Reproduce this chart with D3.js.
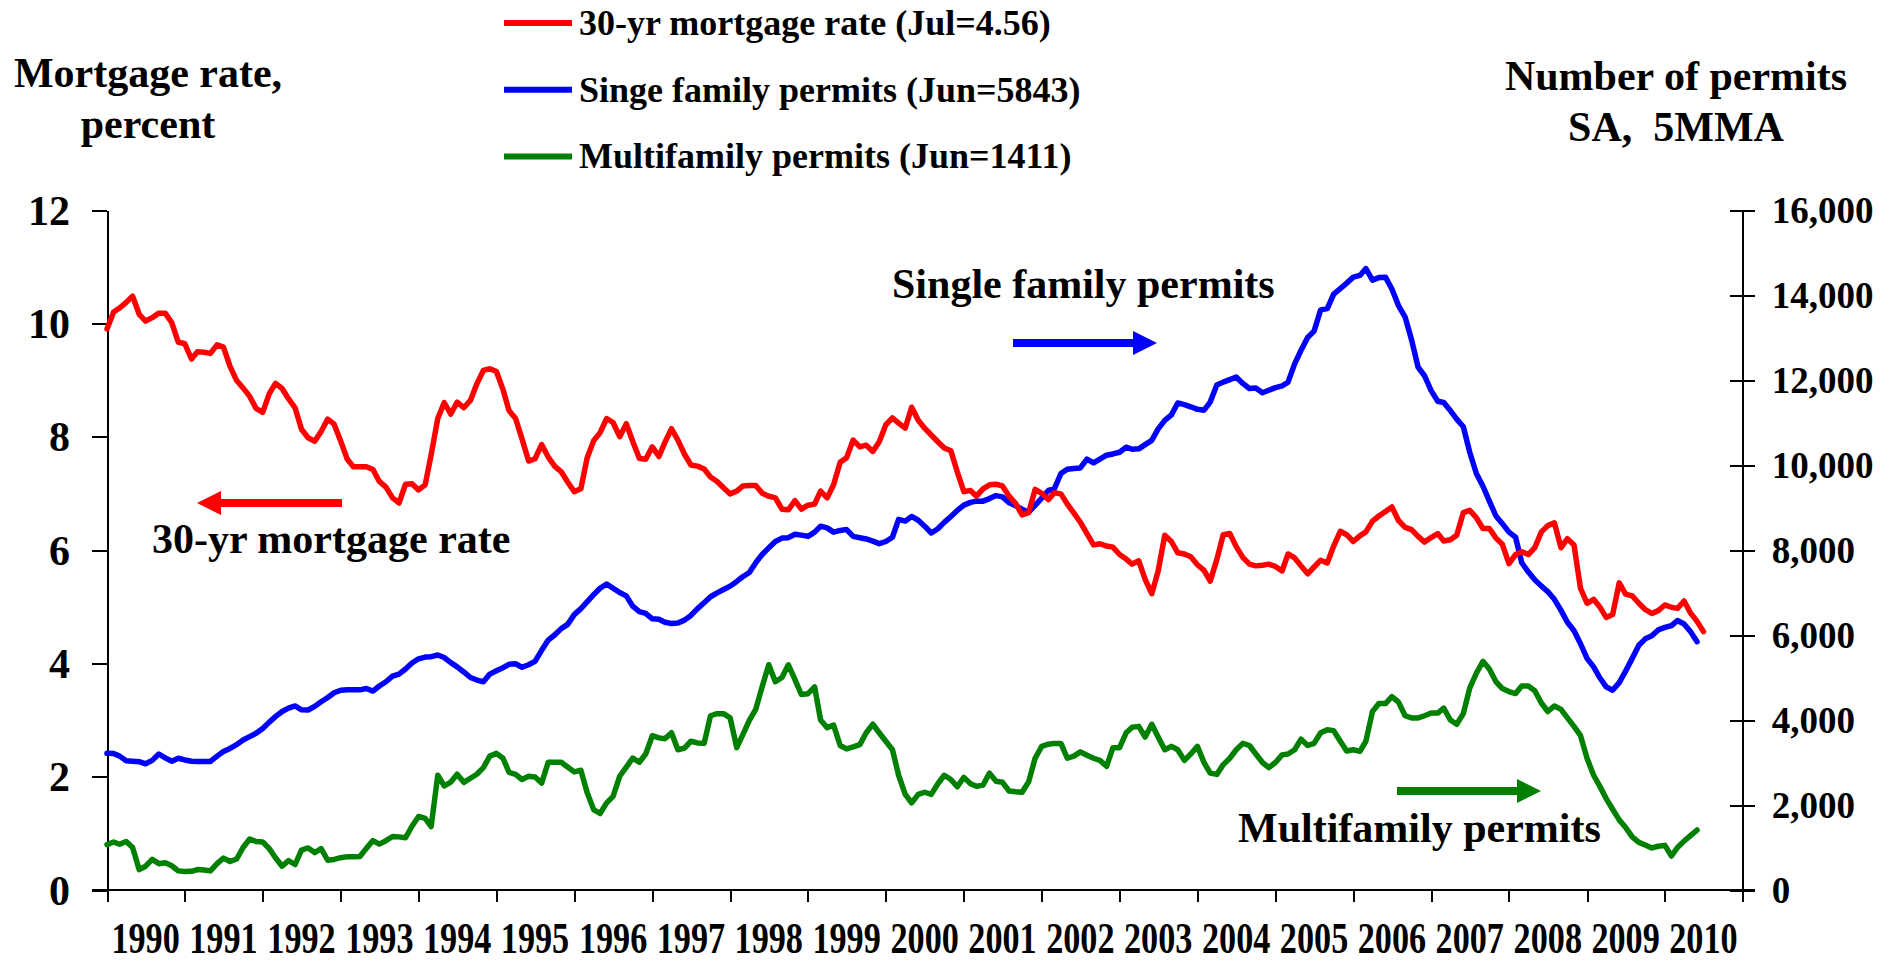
<!DOCTYPE html>
<meta charset="utf-8">
<style>
body { margin: 0; background: #fff; }
svg { display: block; }
text { font-family: "Liberation Serif", "Times New Roman", serif; font-weight: bold; fill: #000; }
.axis path, .axis line { stroke: #000; stroke-width: 2px; shape-rendering: crispEdges; }
.series { fill: none; stroke-width: 5.5px; stroke-linejoin: round; stroke-linecap: round; }
</style>
<body>
<script src="https://d3js.org/d3.v7.min.js"></script>
<script>
// monthly data, first value = Jan 1990
var mortgageRate = [
  9.90,10.20,10.27,10.37,10.48,10.16,10.04,10.10,10.18,10.18,10.01,9.67,
  9.64,9.37,9.50,9.49,9.47,9.62,9.58,9.24,8.99,8.86,8.71,8.50,
  8.43,8.76,8.94,8.85,8.67,8.51,8.13,7.98,7.92,8.09,8.31,8.22,
  7.92,7.60,7.47,7.47,7.47,7.42,7.21,7.11,6.92,6.83,7.16,7.17,
  7.06,7.15,7.68,8.32,8.60,8.40,8.61,8.51,8.64,8.93,9.17,9.20,
  9.15,8.83,8.46,8.32,7.96,7.57,7.61,7.86,7.64,7.48,7.38,7.20,
  7.03,7.08,7.62,7.93,8.07,8.32,8.25,8.00,8.23,7.92,7.62,7.60,
  7.82,7.65,7.90,8.14,7.94,7.69,7.50,7.48,7.43,7.29,7.21,7.10,
  6.99,7.04,7.13,7.14,7.14,7.00,6.95,6.92,6.72,6.71,6.87,6.72,
  6.79,6.81,7.04,6.92,7.15,7.55,7.63,7.94,7.82,7.85,7.74,7.91,
  8.21,8.33,8.24,8.15,8.52,8.29,8.15,8.03,7.91,7.80,7.75,7.38,
  7.03,7.05,6.95,7.08,7.15,7.16,7.13,6.95,6.82,6.62,6.66,7.07,
  7.00,6.89,7.01,6.99,6.81,6.65,6.49,6.29,6.09,6.11,6.07,6.05,
  5.92,5.84,5.75,5.81,5.48,5.23,5.63,6.26,6.15,5.95,5.93,5.88,
  5.74,5.64,5.45,5.83,6.27,6.29,6.06,5.87,5.75,5.72,5.73,5.75,
  5.71,5.63,5.93,5.86,5.72,5.58,5.70,5.82,5.77,6.07,6.33,6.27,
  6.15,6.25,6.32,6.51,6.60,6.68,6.76,6.52,6.40,6.36,6.24,6.14,
  6.22,6.29,6.16,6.18,6.26,6.66,6.70,6.57,6.38,6.38,6.21,6.10,
  5.76,5.92,5.97,5.92,6.04,6.32,6.43,6.48,6.04,6.20,6.09,5.33,
  5.06,5.13,5.00,4.81,4.86,5.42,5.22,5.19,5.06,4.95,4.88,4.93,
  5.03,4.99,4.97,5.10,4.89,4.74,4.56
];
var singleFamily = [
  3215,3210,3150,3040,3030,3020,2970,3050,3200,3110,3030,3100,
  3060,3030,3026,3026,3026,3150,3260,3330,3420,3530,3610,3687,
  3800,3950,4080,4200,4280,4330,4240,4236,4320,4430,4530,4640,
  4700,4710,4710,4710,4740,4680,4800,4900,5030,5080,5200,5340,
  5440,5480,5490,5530,5470,5350,5250,5130,5000,4940,4900,5080,
  5160,5230,5310,5323,5240,5300,5380,5640,5880,6000,6150,6250,
  6480,6620,6780,6950,7100,7200,7100,7000,6920,6680,6550,6510,
  6380,6370,6300,6270,6280,6350,6460,6620,6760,6900,6990,7070,
  7150,7260,7370,7470,7700,7900,8050,8200,8280,8290,8370,8350,
  8320,8420,8560,8520,8420,8460,8480,8320,8290,8260,8210,8150,
  8200,8300,8720,8680,8790,8700,8560,8400,8500,8650,8790,8930,
  9057,9120,9150,9150,9210,9280,9250,9110,9040,8960,8890,9050,
  9220,9400,9440,9800,9900,9920,9930,10140,10050,10140,10230,10260,
  10300,10420,10370,10380,10480,10580,10850,11050,11180,11460,11420,11370,
  11310,11290,11480,11880,11950,12010,12070,11920,11800,11810,11700,11760,
  11820,11860,11950,12380,12700,13000,13150,13650,13680,14020,14150,14280,
  14420,14460,14620,14350,14410,14420,14140,13750,13480,12950,12300,12100,
  11750,11500,11470,11280,11080,10900,10300,9800,9500,9150,8800,8620,
  8420,8300,7700,7480,7300,7150,7020,6840,6580,6300,6100,5800,
  5450,5250,5000,4780,4700,4880,5150,5450,5760,5910,5980,6120,
  6180,6220,6340,6260,6080,5843
];
var multiFamily = [
  1069,1130,1075,1140,1000,480,560,720,620,640,570,450,
  435,440,480,470,450,620,750,670,730,1000,1200,1140,
  1130,974,760,560,691,600,940,990,880,974,700,720,
  760,785,785,790,980,1163,1080,1160,1258,1250,1229,1500,
  1731,1683,1494,2700,2450,2540,2723,2534,2630,2723,2880,3150,
  3215,3100,2770,2723,2600,2676,2660,2515,3006,3006,3006,2893,
  2780,2817,2300,1891,1800,2050,2203,2676,2893,3101,3006,3200,
  3630,3580,3560,3700,3300,3340,3500,3460,3450,4100,4150,4150,
  4050,3350,3650,3990,4250,4800,5300,4900,5000,5300,4950,4600,
  4620,4780,4000,3820,3880,3400,3320,3366,3420,3700,3900,3700,
  3500,3300,2700,2250,2050,2250,2300,2250,2500,2700,2600,2430,
  2650,2500,2439,2470,2750,2560,2534,2330,2310,2300,2550,3100,
  3380,3430,3450,3450,3100,3150,3250,3170,3100,3050,2910,3350,
  3350,3700,3830,3850,3600,3900,3600,3300,3380,3300,3050,3200,
  3380,3000,2750,2720,2950,3100,3300,3450,3400,3200,3000,2880,
  3000,3180,3200,3300,3550,3400,3450,3700,3770,3750,3500,3270,
  3300,3260,3500,4200,4388,4388,4550,4420,4100,4050,4050,4100,
  4163,4163,4280,4000,3900,4150,4750,5100,5380,5200,4900,4740,
  4670,4622,4800,4800,4690,4400,4200,4330,4250,4050,3850,3640,
  3100,2700,2450,2150,1900,1650,1470,1250,1120,1060,990,1030,
  1050,800,1000,1150,1280,1411
];
var years = d3.range(1990, 2011);
var leftTicks = [0, 2, 4, 6, 8, 10, 12];
var rightTicks = [0, 2000, 4000, 6000, 8000, 10000, 12000, 14000, 16000];
var legendLabels = ["30-yr mortgage rate (Jul=4.56)", "Singe family permits (Jun=5843)", "Multifamily permits (Jun=1411)"];
var colors = ["#ff0000", "#0000ff", "#008000"];

var W = 1880, H = 962;
var plot = {left: 107, right: 1742.7, top: 210, bottom: 890};

var svg = d3.select("body").append("svg").attr("width", W).attr("height", H);

var x = d3.scaleTime()
    .domain([new Date(1990, 0, 1), new Date(2011, 0, 1)])
    .range([plot.left, plot.right]);
var yLeft = d3.scaleLinear().domain([0, 12]).range([plot.bottom, plot.top]);
var yRight = d3.scaleLinear().domain([0, 16000]).range([plot.bottom, plot.top]);
var monthDate = function(i) { return new Date(1990, i, 1); };

// left axis
var gl = svg.append("g").attr("class", "axis")
    .attr("transform", "translate(" + plot.left + ",0)")
    .call(d3.axisLeft(yLeft).tickValues(leftTicks).tickSize(15).tickSizeOuter(0).tickPadding(22));
gl.selectAll("text").style("font-size", "42px").style("font-family", null).attr("dy", "0.34em");

// right axis, ticks crossing the line
var gr = svg.append("g").attr("class", "axis")
    .attr("transform", "translate(" + plot.right + ",0)")
    .call(d3.axisRight(yRight).tickValues(rightTicks).tickSizeOuter(0)
        .tickFormat(d3.format(",")));
gr.selectAll(".tick line").attr("x1", -12.5).attr("x2", 12.5);
gr.selectAll("text").attr("x", 29).style("font-size", "37px").style("font-family", null).attr("dy", "0.34em");

// bottom axis
var gx = svg.append("g").attr("class", "axis")
    .attr("transform", "translate(0," + plot.bottom + ")")
    .call(d3.axisBottom(x).tickValues(years.concat([2011]).map(function(y) { return new Date(y, 0, 1); }))
        .tickSize(12).tickFormat(""));
gx.select(".domain").remove();
gx.append("line")
    .attr("x1", plot.left - 15).attr("x2", plot.right + 12.5)
    .attr("stroke", "#000").attr("stroke-width", 3);

// year labels: narrow, tall digits centred in each year
svg.append("g").selectAll("text")
    .data(years)
    .enter().append("text")
    .attr("transform", function(d) { return "translate(" + x(new Date(d, 6, 1)) + ",953) scale(0.76,1)"; })
    .attr("text-anchor", "middle")
    .style("font-size", "45px")
    .text(function(d) { return d; });

// series
var lineLeft = d3.line().x(function(d, i) { return x(monthDate(i)); }).y(function(d) { return yLeft(d); });
var lineRight = d3.line().x(function(d, i) { return x(monthDate(i)); }).y(function(d) { return yRight(d); });

svg.append("path").attr("class", "series").attr("stroke", colors[2]).attr("d", lineRight(multiFamily));
svg.append("path").attr("class", "series").attr("stroke", colors[1]).attr("d", lineRight(singleFamily));
svg.append("path").attr("class", "series").attr("stroke", colors[0]).attr("d", lineLeft(mortgageRate));

// axis titles
function title(lines, cx, y0) {
    svg.append("text").attr("text-anchor", "middle").style("font-size", "42px")
        .style("white-space", "pre")
        .selectAll("tspan").data(lines).enter().append("tspan")
        .attr("x", cx).attr("y", function(d, i) { return y0 + i * 51; })
        .text(function(d) { return d; });
}
title(["Mortgage rate,", "percent"], 148, 87);
title(["Number of permits", "SA,  5MMA"], 1676, 90);

// legend
var leg = svg.append("g").selectAll("g").data(legendLabels).enter().append("g")
    .attr("transform", function(d, i) { return "translate(0," + (23 + i * 66.7) + ")"; });
leg.append("line").attr("x1", 504).attr("x2", 572)
    .attr("stroke", function(d, i) { return colors[i]; }).attr("stroke-width", 6);
leg.append("text").attr("x", 579).attr("y", 12).style("font-size", "36px")
    .text(function(d) { return d; });

// annotations with arrows
function arrow(x1, x2, y, color) {
    var dir = x2 > x1 ? 1 : -1, head = 24, half = 12;
    svg.append("line").attr("x1", x1).attr("x2", x2 - dir * head).attr("y1", y).attr("y2", y)
        .attr("stroke", color).attr("stroke-width", 8);
    svg.append("path")
        .attr("d", "M" + x2 + "," + y + "L" + (x2 - dir * head) + "," + (y - half) + "L" + (x2 - dir * head) + "," + (y + half) + "Z")
        .attr("fill", color);
}
function note(t, xx, yy) {
    svg.append("text").attr("x", xx).attr("y", yy).style("font-size", "42px").text(t);
}
note("Single family permits", 892, 298);
arrow(1013, 1157, 343, colors[1]);
note("30-yr mortgage rate", 152, 553);
arrow(342, 197, 503, colors[0]);
note("Multifamily permits", 1238, 842);
arrow(1397, 1541, 791, colors[2]);
</script>
</body>
